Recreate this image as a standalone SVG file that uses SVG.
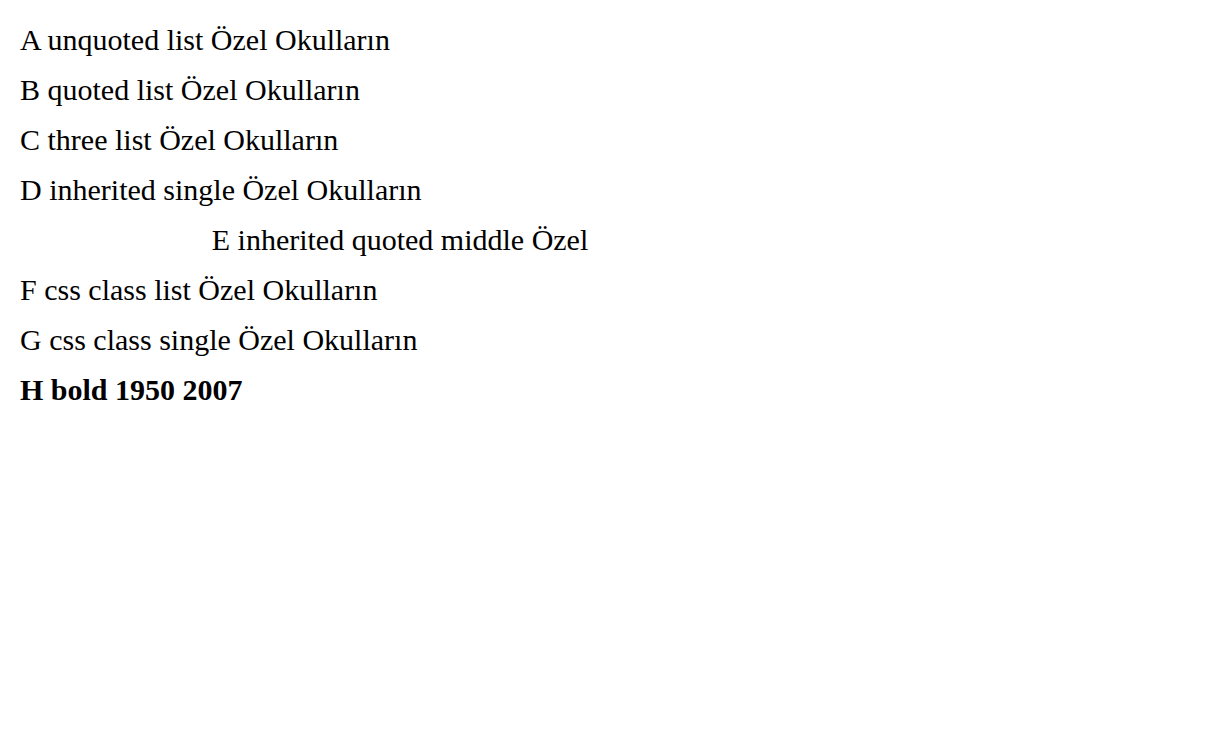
<svg xmlns="http://www.w3.org/2000/svg" width="1218" height="731" viewBox="0 0 1218 731">
<style>
.a{font-family:"Liberation Serif",serif;font-size:30px}
.b{font-family:'Liberation Serif';font-size:30px}
</style>
<rect width="1218" height="731" fill="#fff"/>
<text x="20" y="50" font-family="Liberation Serif, serif" font-size="30">A unquoted list Özel Okulların</text>
<text x="20" y="100" font-family="'Liberation Serif', serif" font-size="30">B quoted list Özel Okulların</text>
<text x="20" y="150" font-family="Liberation Serif, Times New Roman, serif" font-size="30">C three list Özel Okulların</text>
<g font-family="Liberation Serif" font-size="30"><text x="20" y="200">D inherited single Özel Okulların</text></g>
<g font-family="'Liberation Serif', serif" font-size="30" text-anchor="middle"><text x="400" y="250">E inherited quoted middle Özel</text></g>
<text class="a" x="20" y="300">F css class list Özel Okulların</text>
<text class="b" x="20" y="350">G css class single Özel Okulların</text>
<text x="20" y="400" font-family="Liberation Serif" font-size="30" font-weight="bold">H bold 1950 2007</text>
</svg>
